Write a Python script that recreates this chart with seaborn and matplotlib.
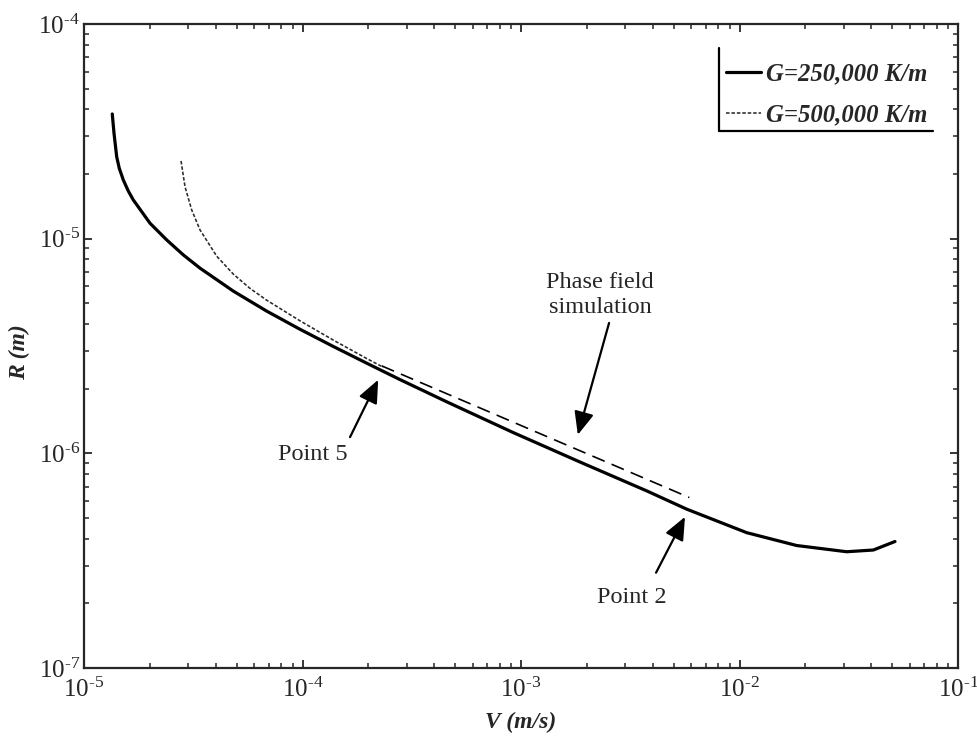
import numpy as np
import pandas as pd
import matplotlib
matplotlib.use("Agg")
import matplotlib.pyplot as plt
import seaborn as sns
from matplotlib.lines import Line2D

# ---- data ----
v_250 = [1.347e-5, 1.372e-5, 1.411e-5, 1.450e-5, 1.513e-5, 1.594e-5, 1.681e-5, 2.005e-5,
         2.390e-5, 2.848e-5, 3.396e-5, 4.823e-5, 6.859e-5, 9.741e-5, 1.384e-4, 1.967e-4,
         2.793e-4, 4.571e-4, 9.222e-4, 1.862e-3, 3.761e-3, 5.733e-3, 1.079e-2, 1.827e-2,
         3.094e-2, 4.097e-2, 5.148e-2]
r_250 = [3.810e-5, 3.097e-5, 2.410e-5, 2.128e-5, 1.877e-5, 1.669e-5, 1.515e-5, 1.180e-5,
         9.867e-6, 8.401e-6, 7.288e-6, 5.698e-6, 4.596e-6, 3.783e-6, 3.146e-6, 2.630e-6,
         2.206e-6, 1.738e-6, 1.249e-6, 9.11e-7, 6.685e-7, 5.495e-7, 4.270e-7, 3.720e-7,
         3.480e-7, 3.545e-7, 3.884e-7]

v_500 = [2.780e-5, 2.899e-5, 3.111e-5, 3.396e-5, 4.049e-5, 4.823e-5, 5.751e-5, 6.859e-5,
         9.741e-5, 1.384e-4, 1.967e-4, 2.343e-4]
r_500 = [2.301e-5, 1.747e-5, 1.361e-5, 1.098e-5, 8.288e-6, 6.838e-6, 5.866e-6, 5.168e-6,
         4.143e-6, 3.368e-6, 2.765e-6, 2.517e-6]

v_pf = [2.304e-4, 5.892e-3]
r_pf = [2.555e-6, 6.226e-7]

series_labels = ["G=250,000 K/m", "G=500,000 K/m"]
x_ticks = [1e-5, 1e-4, 1e-3, 1e-2, 1e-1]
y_ticks = [1e-7, 1e-6, 1e-5, 1e-4]
x_ticklabels = ["$10^{\u2010 5}$", "$10^{\u2010 4}$", "$10^{\u2010 3}$", "$10^{\u2010 2}$", "$10^{\u2010 1}$"]
y_ticklabels = ["$10^{\u2010 7}$", "$10^{\u2010 6}$", "$10^{\u2010 5}$", "$10^{\u2010 4}$"]

# ---- style ----
sns.set_style("ticks")
plt.rcParams["font.family"] = ["Liberation Serif", "DejaVu Serif"]
plt.rcParams["mathtext.fontset"] = "custom"
plt.rcParams["mathtext.rm"] = "Liberation Serif"
plt.rcParams["mathtext.it"] = "Liberation Serif:italic"
plt.rcParams["mathtext.bf"] = "Liberation Serif:bold"
plt.rcParams["mathtext.default"] = "regular"

fig = plt.figure(figsize=(9.77, 7.36), dpi=100)
ax = fig.add_axes([84/977, 1-668/736, (958-84)/977, (668-24)/736])

df250 = pd.DataFrame({"V": v_250, "R": r_250})
df500 = pd.DataFrame({"V": v_500, "R": r_500})
dfpf = pd.DataFrame({"V": v_pf, "R": r_pf})

sns.lineplot(data=df250, x="V", y="R", ax=ax, sort=False, estimator=None,
             color="black", linewidth=2.3, label=series_labels[0])
sns.lineplot(data=df500, x="V", y="R", ax=ax, sort=False, estimator=None,
             color="#2a2a2a", linewidth=1.15, label=series_labels[1])
ax.lines[-1].set_dashes((2.2, 1.2))
sns.lineplot(data=dfpf, x="V", y="R", ax=ax, sort=False, estimator=None,
             color="black", linewidth=1.2, legend=False)
ax.lines[-1].set_dashes((8, 4.5))
for ln in ax.lines:
    ln.set_solid_joinstyle("round")

ax.set_xscale("log")
ax.set_yscale("log")
ax.set_xlim(1e-5, 1e-1)
ax.set_ylim(1e-7, 1e-4)
ax.set_xticks(x_ticks)
ax.set_xticklabels(x_ticklabels)
ax.set_yticks(y_ticks)
ax.set_yticklabels(y_ticklabels)

for s in ax.spines.values():
    s.set_linewidth(1.6)
    s.set_visible(True)
ax.tick_params(which="major", direction="in", length=6, width=1.3,
               top=True, right=True, labelsize=18, pad=7)
ax.tick_params(which="minor", direction="in", length=3.5, width=1.1,
               top=True, right=True)
ax.tick_params(axis="y", pad=3)

ax.set_xlabel("V (m/s)", fontsize=17, fontweight="bold", fontstyle="italic")
ax.set_ylabel("R (m)", fontsize=17, fontweight="bold", fontstyle="italic")
ax.xaxis.set_label_coords(0.5, -0.068)
ax.yaxis.set_label_coords(-0.062, 0.49)

# legend
leg = ax.legend(loc="upper left", bbox_to_anchor=(0.7346, 0.940), frameon=False,
                prop={"size": 17.8, "weight": "bold", "style": "italic"},
                borderpad=0, borderaxespad=0,
                handlelength=1.4, handletextpad=0.2, labelspacing=0.72)
# legend frame: left and bottom edges only
fig.add_artist(Line2D([719/977, 719/977], [1-48/736, 1-131/736], color="black", lw=1.6))
fig.add_artist(Line2D([719/977, 933/977], [1-131/736, 1-131/736], color="black", lw=1.6))

# annotations
arrowprops = dict(arrowstyle="-|>,head_length=0.7,head_width=0.3", color="black",
                  lw=1.6, mutation_scale=20, shrinkA=0, shrinkB=0)
ax.annotate("", xy=(2.22e-4, 2.20e-6), xytext=(1.65e-4, 1.19e-6), arrowprops=arrowprops)
ax.text(1.117e-4, 9.84e-7, "Point 5", ha="center", va="center", fontsize=17.5)
ax.annotate("", xy=(5.63e-3, 5.06e-7), xytext=(4.15e-3, 2.78e-7), arrowprops=arrowprops)
ax.text(3.22e-3, 2.12e-7, "Point 2", ha="center", va="center", fontsize=17.5)
ax.annotate("", xy=(1.82e-3, 1.22e-6), xytext=(2.53e-3, 4.05e-6), arrowprops=arrowprops)
ax.text(2.30e-3, 5.47e-6, "Phase field\nsimulation", ha="center", va="center",
        fontsize=17.5, linespacing=1.2)

fig.savefig("out.png", dpi=100)
